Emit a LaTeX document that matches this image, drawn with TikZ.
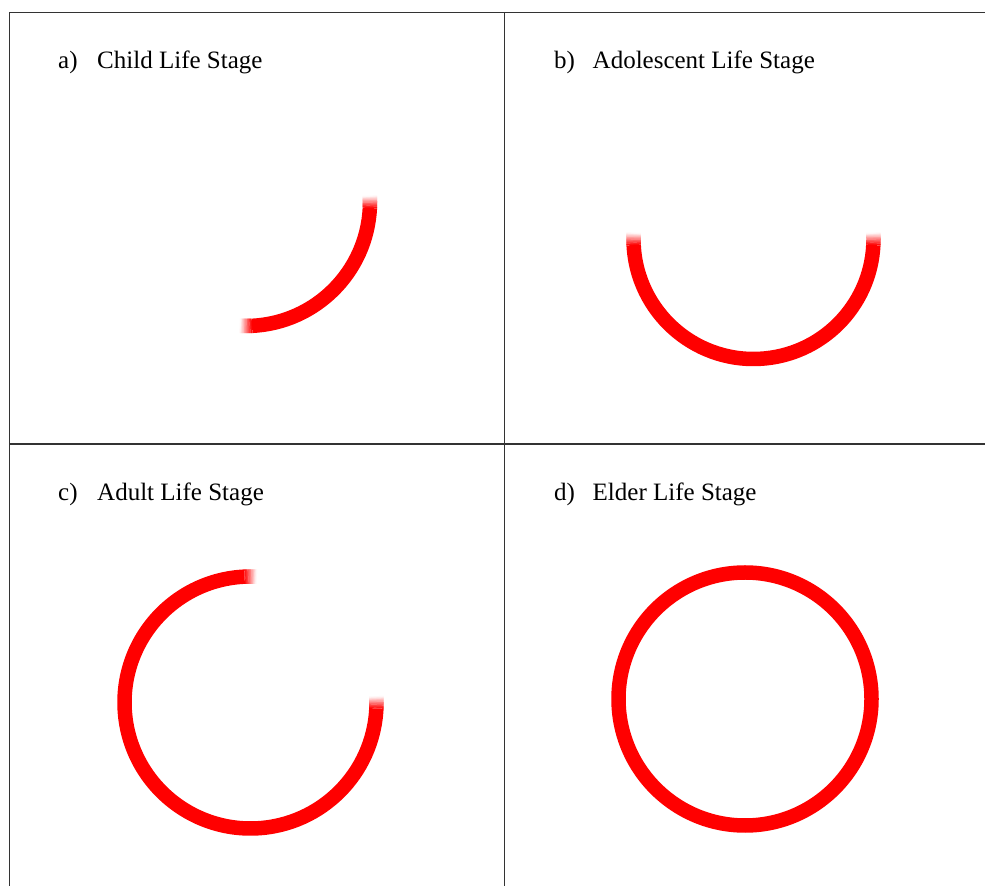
\documentclass[tikz,border=0pt]{standalone}
\usepackage{fontspec}
\setmainfont{Liberation Serif}
\tikzset{
  ring/.style={draw=red, line width=14.5pt, line cap=butt},
  grid/.style={draw=black!80, line width=1.4pt},
  lbl/.style={anchor=base west, inner sep=0pt, font=\fontsize{25}{29}\selectfont}
}
\newcommand\fadedarc[5]{%
  \pgfmathsetmacro\hh{343.77/#3}%
  \pgfmathsetmacro\st{2*\hh/16}%
  \pgfmathsetmacro\aa{#4+\hh}%
  \pgfmathsetmacro\bb{#5-\hh}%
  \draw[ring] ([shift={(\aa:#3pt)}]#1,#2) arc[start angle=\aa, end angle=\bb, radius=#3pt];
  \foreach \k in {0,...,15}{%
    \pgfmathtruncatemacro\cc{100-(\k+0.5)*100/16}%
    \pgfmathsetmacro\sa{#4+\hh-\k*\st}%
    \pgfmathsetmacro\sb{#5-\hh+\k*\st}%
    \pgfmathsetmacro\dd{1.5*\st}%
    \draw[ring, draw=red!\cc!white] ([shift={(\sa:#3pt)}]#1,#2) arc[start angle=\sa, delta angle=-\dd, radius=#3pt];
    \draw[ring, draw=red!\cc!white] ([shift={(\sb:#3pt)}]#1,#2) arc[start angle=\sb, delta angle=\dd, radius=#3pt];
  }%
}
\begin{document}
\begin{tikzpicture}[x=1pt, y=1pt]
\useasboundingbox (0,0) rectangle (985,886);
\fill[white] (0,0) rectangle (985,886);
% table lines
\coordinate (tl) at (9.5,873.5);
\coordinate (tr) at (985,873.5);
\coordinate (bl) at (9.5,0);
\coordinate (ml) at (9.5,442);
\coordinate (mr) at (985,442);
\coordinate (mt) at (504.5,873.5);
\coordinate (mb) at (504.5,0);
\draw[grid] (tr) -- (tl) -- (bl);
\draw[grid] (ml) -- (mr);
\draw[grid] (mt) -- (mb);
% labels
\node[lbl] (la) at (58,817) {a)};
\node[lbl] (ta) at (97,817) {Child Life Stage};
\node[lbl] (lb) at (554,817) {b)};
\node[lbl] (tb) at (592.5,817) {Adolescent Life Stage};
\node[lbl] (lc) at (58,385) {c)};
\node[lbl] (tc) at (97,385) {Adult Life Stage};
\node[lbl] (ld) at (554,385) {d)};
\node[lbl] (td) at (592.5,385) {Elder Life Stage};
% rings
\fadedarc{246}{684}{124}{-90}{0}
\fadedarc{753.5}{647}{120}{180}{360}
\fadedarc{250.5}{183.5}{126}{90}{360}
\draw[ring] (745,187) circle[radius=126.5pt];
\end{tikzpicture}
\end{document}
